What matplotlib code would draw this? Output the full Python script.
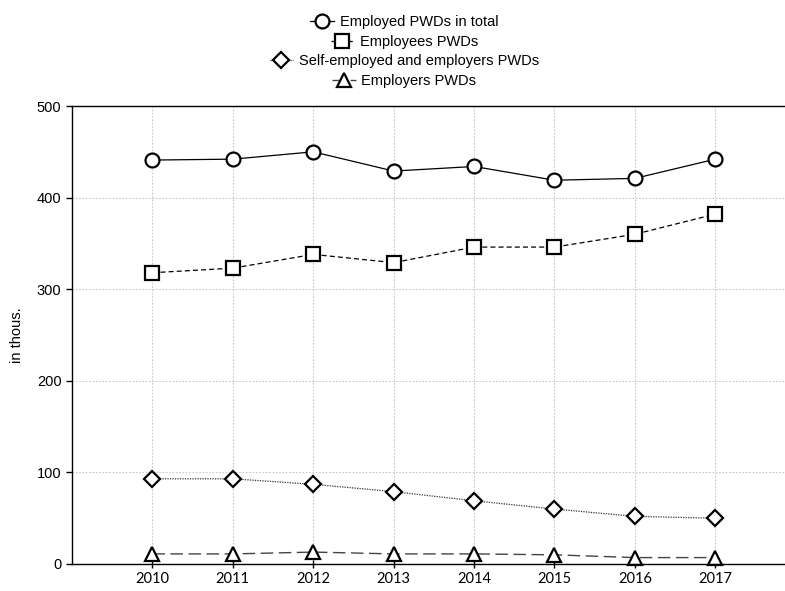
import numpy as np
import matplotlib
matplotlib.use("Agg")
import matplotlib.pyplot as plt

years = [2010, 2011, 2012, 2013, 2014, 2015, 2016, 2017]
employed_total = [441, 442, 450, 429, 434, 419, 421, 442]
employees = [318, 323, 338, 329, 346, 346, 360, 382]
self_employed = [93, 93, 87, 79, 69, 60, 52, 50]
employers = [11, 11, 13, 11, 11, 10, 7, 7]

labels = ["Employed PWDs in total", "Employees PWDs",
          "Self-employed and employers PWDs", "Employers PWDs"]

plt.rcParams["font.family"] = ["Liberation Sans", "DejaVu Sans"]

fig = plt.figure(figsize=(7.85, 5.91), dpi=100)
ax = fig.add_axes([0.0917, 0.0457, 0.922, 0.7749])

ms = 10
mew = 1.6
h1, = ax.plot(years, employed_total, "-", color="black", lw=0.9,
              marker="o", ms=ms, mfc="white", mec="black", mew=mew)
h2, = ax.plot(years, employees, color="black", lw=0.9, dashes=(4, 2.5),
              marker="s", ms=ms, mfc="white", mec="black", mew=mew)
h3, = ax.plot(years, self_employed, color="#333333", lw=0.9, dashes=(1, 1),
              marker="D", ms=8.5, mfc="white", mec="black", mew=mew)
h4, = ax.plot(years, employers, color="#444444", lw=1.0, dashes=(9, 4),
              marker="^", ms=ms, mfc="white", mec="black", mew=mew,
              clip_on=False)

ax.set_xlim(2009, 2018)
ax.set_ylim(0, 500)
ax.set_xticks(years)
ax.set_yticks([0, 100, 200, 300, 400, 500])
ax.set_xticklabels([str(y) for y in years], fontfamily=["Lato", "DejaVu Sans"],
                   fontsize=10.5)
ax.tick_params(axis="y", labelsize=10.5, direction="out", length=4, width=1)
ax.tick_params(axis="x", direction="inout", length=6, width=1, pad=3)
ax.grid(True, color="#c8c8c8", linestyle=(0, (1.5, 1.5)), linewidth=0.8)
ax.set_axisbelow(True)
for s in ["left", "bottom", "top"]:
    ax.spines[s].set_linewidth(1.0)
ax.spines["right"].set_visible(False)
ax.set_ylabel("in thous.", fontsize=10.5, labelpad=9)

handles = [h1, h2, h3, h4]
ys = [0.963, 0.929, 0.896, 0.863]
for h, lab, y in zip(handles, labels, ys):
    fig.legend([h], [lab], loc="center", bbox_to_anchor=(0.515, y),
               frameon=False, fontsize=10.5, handlelength=1.6,
               handletextpad=0.4, borderpad=0.1)

fig.savefig("out.png", dpi=100)
